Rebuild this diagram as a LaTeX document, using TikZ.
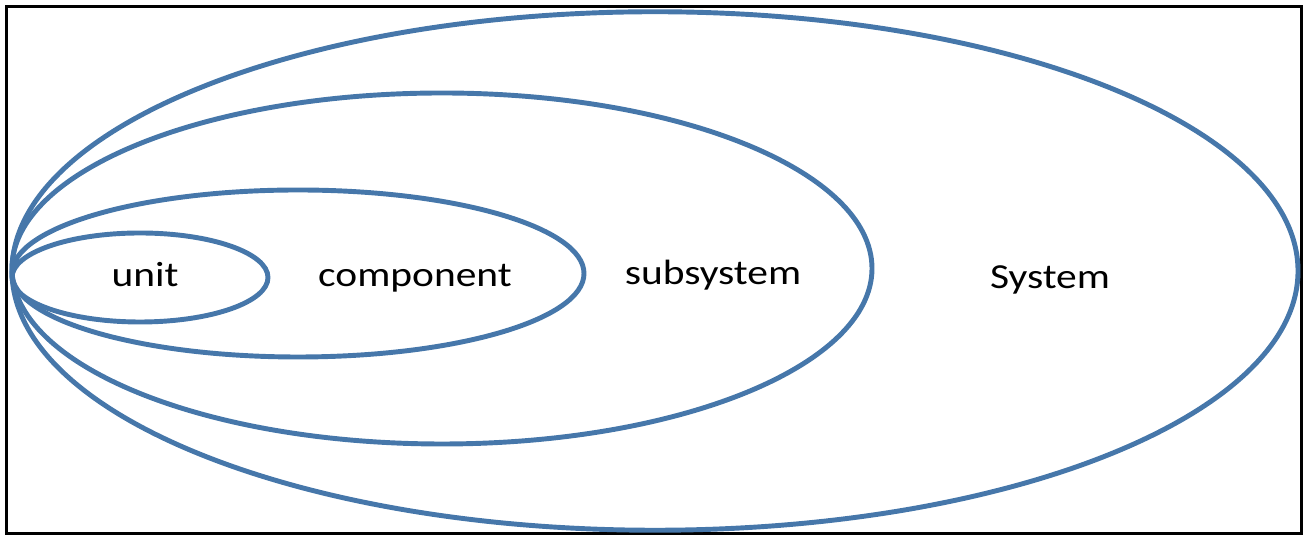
\documentclass[tikz,border=0pt]{standalone}
\usepackage{fontspec}
\usepackage{xcolor}
\usepackage{tikz}
\usetikzlibrary{shapes.geometric, positioning}
\newfontfamily\labelfont[FakeStretch=1.18]{Carlito}
\definecolor{ringblue}{HTML}{4677AA}

\begin{document}
\begin{tikzpicture}[
    ring/.style={ellipse, draw=ringblue, line width=2.8pt, inner sep=0pt,
                 minimum width=#1},
    tag/.style={font=\labelfont\fontsize{20}{23}\selectfont, text=black},
]
    \useasboundingbox (0,0) rectangle (26.1,10.72);

    % Frame
    \draw[line width=2.2pt, black] (0.13,0.05) rectangle (26.03,10.59);

    % Nested ellipses
    \node[ring=25.72cm, minimum height=10.37cm] (system) at (13.10,5.30) {};
    \node[ring=17.20cm, minimum height=7.02cm] (subsystem) at (8.84,5.35) {};
    \node[ring=11.44cm, minimum height=3.34cm] (component) at (5.96,5.25) {};
    \node[ring=5.12cm, minimum height=1.78cm] (unit) at (2.80,5.17) {};

    % Labels
    \node[tag] (unitlbl) at (2.90,5.22) {unit};
    \node[tag] (componentlbl) at (8.30,5.16) {component};
    \node[tag] (subsystemlbl) at (14.26,5.22) {subsystem};
    \node[tag] (systemlbl) at (21.00,5.12) {System};
\end{tikzpicture}
\end{document}
